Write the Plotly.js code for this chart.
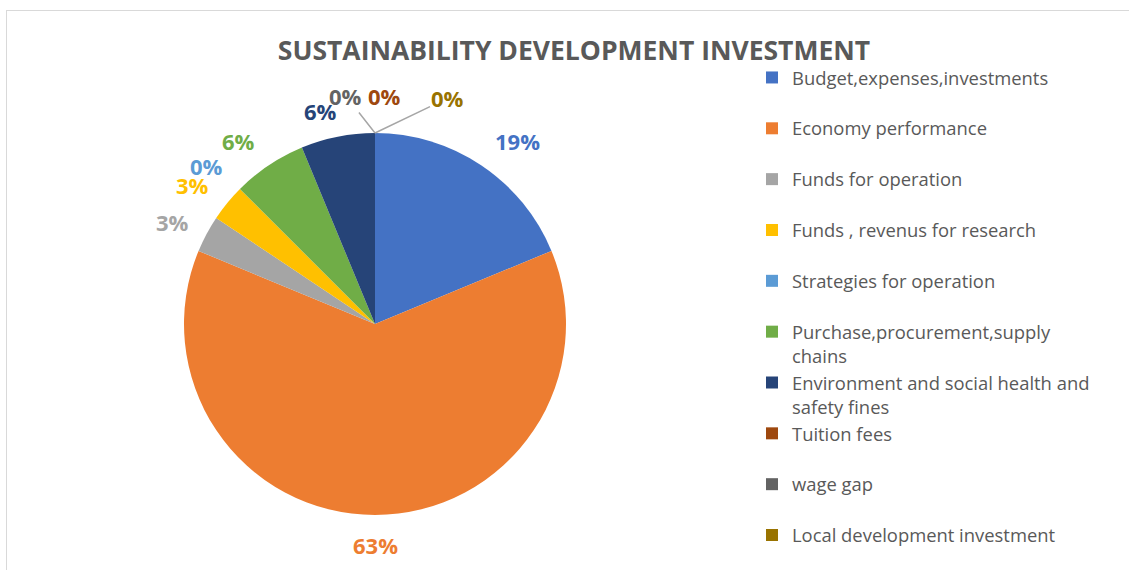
<!DOCTYPE html>
<html>
<head>
<meta charset="utf-8">
<script src="https://cdn.plot.ly/plotly-3.0.1.min.js"></script>
<style>
  html, body { margin: 0; padding: 0; background: #ffffff; overflow: hidden; width: 1129px; height: 570px; }
  #chart { width: 1129px; height: 570px; position: absolute; left: 0; top: 0; }
  #frame { position: absolute; left: 6px; top: 10px; width: 1200px; height: 700px;
           border-left: 1px solid #d9d9d9; border-top: 1px solid #d9d9d9;
           pointer-events: none; z-index: 5; }
</style>
</head>
<body>
<div id="chart"></div>
<div id="frame"></div>
<script>
// ---- data ----
const categories = [
  "Budget,expenses,investments",
  "Economy performance",
  "Funds for operation",
  "Funds , revenus for research",
  "Strategies for operation",
  "Purchase,procurement,supply<br>chains",
  "Environment and social health and<br>safety fines",
  "Tuition fees",
  "wage gap",
  "Local development investment"
];
const values = [6, 20, 1, 1, 0, 2, 2, 0, 0, 0];
const colors = ["#4472C4", "#ED7D31", "#A5A5A5", "#FFC000", "#5B9BD5",
                "#70AD47", "#264478", "#9E480E", "#636363", "#997300"];
const titleText = "SUSTAINABILITY DEVELOPMENT INVESTMENT";

// ---- layout / style (not data) ----
const W = 1129, H = 570;
const cx = 375, cy = 324, r = 191;       // pie centre and radius in pixels
const labelR = 228;                       // default label distance from centre
// per-label pixel nudges (Excel "best fit" placement) and leader-line flags
const nudges = [[16, 7], [0, -7], [-1, 5], [-6, 6], [-7, 3], [-10, 7], [-10, 11],
                [10, 0], [-29, 0], [73, 2]];
const leader = [false, false, false, false, false, false, false, false, true, true];

// pad single-line legend entries to a uniform two-line height
const legendLabels = categories.map(c => c.indexOf("<br>") >= 0 ? c : c + "<br>&nbsp;");

const total = values.reduce((a, b) => a + b, 0);

const trace = {
  type: "pie",
  labels: legendLabels,
  values: values,
  sort: false,
  direction: "clockwise",
  rotation: 0,
  marker: { colors: colors, line: { color: "#ffffff", width: 0 } },
  textinfo: "none",
  textposition: "none",
  hoverinfo: "label+percent",
  domain: {
    x: [(cx - r) / W, (cx + r) / W],
    y: [(H - cy - r) / H, (H - cy + r) / H]
  }
};

// percentage labels derived from the values (clockwise from 12 o'clock)
const annotations = [];
let cum = 0;
values.forEach((v, i) => {
  const mid = (cum + v / 2) / total * 2 * Math.PI;
  cum += v;
  const pct = Math.round(v / total * 100) + "%";
  const font = { family: "Open Sans, sans-serif", size: 22, color: colors[i], weight: "bold" };
  const rimX = cx + r * Math.sin(mid), rimY = cy - r * Math.cos(mid);
  const lx = cx + labelR * Math.sin(mid) + nudges[i][0];
  const ly = cy - labelR * Math.cos(mid) + nudges[i][1];
  if (leader[i]) {
    annotations.push({
      xref: "paper", yref: "paper",
      x: rimX / W, y: 1 - rimY / H,
      ax: lx - rimX, ay: ly - rimY,
      text: pct, font: font,
      showarrow: true, arrowhead: 0, arrowwidth: 1.5, arrowcolor: "#a6a6a6",
      standoff: 0, startstandoff: 0
    });
  } else {
    annotations.push({
      xref: "paper", yref: "paper",
      x: lx / W, y: 1 - ly / H,
      xanchor: "center", yanchor: "middle",
      text: pct, font: font, showarrow: false
    });
  }
});

const layout = {
  width: W, height: H,
  margin: { l: 0, r: 0, t: 0, b: 0, autoexpand: false },
  paper_bgcolor: "#ffffff",
  title: {
    text: titleText,
    font: { family: "Open Sans, sans-serif", size: 26.5, color: "#595959", weight: "bold" },
    x: 574 / W, xanchor: "center", xref: "container",
    y: 1 - 51 / H, yanchor: "middle", yref: "container"
  },
  showlegend: true,
  legend: {
    xref: "paper", yref: "paper",
    x: 752 / W, xanchor: "left",
    y: 1 - 59 / H, yanchor: "top",
    valign: "top",
    maxheight: 560,
    font: { family: "Open Sans, sans-serif", size: 18.4, color: "#595959" },
    bgcolor: "rgba(0,0,0,0)",
    traceorder: "normal"
  },
  annotations: annotations
};

Plotly.newPlot("chart", [trace], layout, { displayModeBar: false, staticPlot: true });
</script>
</body>
</html>
